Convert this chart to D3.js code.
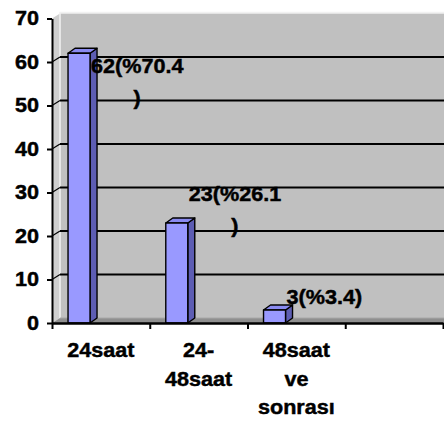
<!DOCTYPE html>
<html>
<head>
<meta charset="utf-8">
<script src="https://cdn.jsdelivr.net/npm/d3@7"></script>
<style>
  body { margin: 0; background: #fff; }
  svg { display: block; }
  text { font-family: "Liberation Sans", Arial, sans-serif; font-weight: bold; fill: #000; stroke: #000; stroke-width: 0.45px; }
</style>
</head>
<body>
<svg id="chart" width="444" height="421"></svg>
<script>
'use strict';
const CATEGORIES = ['24saat', '24-48saat', '48saat ve sonrası', ''];
const CATEGORY_LINES = [['24saat'], ['24-', '48saat'], ['48saat', 've', 'sonrası'], []];
const VALUES = [62, 23, 3];
const DATA_LABELS = [['62(%70.4', ')'], ['23(%26.1', ')'], ['3(%3.4)']];
const Y_TICKS = [0, 10, 20, 30, 40, 50, 60, 70];

const FONT_SIZE = 20;
const STRETCH = 1.08;
const DEPTH = { dx: 8, dy: -5 };
const BAR_DEPTH = { dx: 7, dy: -5 };

const svg = d3.select('#chart');
const plotLeft = 52, plotRight = 443, plotBottom = 323, plotTop = 18.5;

const x = d3.scaleBand().domain(CATEGORIES).range([plotLeft, plotRight]).padding(0);
const xEdges = d3.scaleLinear().domain([0, CATEGORIES.length]).range([plotLeft, plotRight]);
const y = d3.scaleLinear().domain([0, 70]).range([plotBottom, plotTop]);
const bw = x.bandwidth();

// walls
svg.append('polygon')
  .attr('points', [[plotLeft + DEPTH.dx, y(70) + DEPTH.dy], [460, y(70) + DEPTH.dy], [460, y(0) + DEPTH.dy], [plotLeft + DEPTH.dx, y(0) + DEPTH.dy]].join(' '))
  .attr('fill', '#c0c0c0');
svg.append('polygon')
  .attr('points', [[plotLeft, y(70)], [plotLeft + DEPTH.dx, y(70) + DEPTH.dy], [plotLeft + DEPTH.dx, y(0) + DEPTH.dy], [plotLeft, y(0)]].join(' '))
  .attr('fill', '#cfcfcf');
svg.append('polygon')
  .attr('points', [[plotLeft, y(0)], [plotLeft + DEPTH.dx, y(0) + DEPTH.dy], [460, y(0) + DEPTH.dy], [460, y(0)]].join(' '))
  .attr('fill', '#8f8f8f');
// wall edge highlights
svg.append('polyline')
  .attr('points', [[plotLeft + DEPTH.dx, y(0) + DEPTH.dy], [plotLeft + DEPTH.dx, y(70) + DEPTH.dy - 1], [460, y(70) + DEPTH.dy - 1]].join(' '))
  .attr('fill', 'none').attr('stroke', '#f2f2f2').attr('stroke-width', 1.5);
svg.append('line')
  .attr('x1', plotLeft + DEPTH.dx).attr('x2', 460)
  .attr('y1', y(0) + DEPTH.dy).attr('y2', y(0) + DEPTH.dy)
  .attr('stroke', '#a8a8a8').attr('stroke-width', 1);

// gridlines
const grid = svg.append('g');
Y_TICKS.filter((t) => t > 0 && t < 70).forEach((t) => {
  grid.append('line')
    .attr('x1', plotLeft + DEPTH.dx).attr('x2', 460)
    .attr('y1', y(t) + DEPTH.dy).attr('y2', y(t) + DEPTH.dy)
    .attr('stroke', '#000').attr('stroke-width', 2);
  grid.append('line')
    .attr('x1', plotLeft).attr('x2', plotLeft + DEPTH.dx)
    .attr('y1', y(t)).attr('y2', y(t) + DEPTH.dy)
    .attr('stroke', '#000').attr('stroke-width', 1.2);
});

// bars
const bars = svg.append('g');
VALUES.forEach((v, i) => {
  const c = CATEGORIES[i];
  const x0 = x(c) + bw * 0.164;
  const x1 = x0 + bw * 0.225;
  const yt = y(v), yb = y(0);
  const g = bars.append('g').attr('stroke', '#000').attr('stroke-width', 1.4).attr('stroke-linejoin', 'round');
  g.append('polygon')
    .attr('points', [[x1, yt], [x1 + BAR_DEPTH.dx, yt + BAR_DEPTH.dy], [x1 + BAR_DEPTH.dx, yb + BAR_DEPTH.dy], [x1, yb]].join(' '))
    .attr('fill', '#5d5db3');
  g.append('polygon')
    .attr('points', [[x0, yt], [x0 + BAR_DEPTH.dx, yt + BAR_DEPTH.dy], [x1 + BAR_DEPTH.dx, yt + BAR_DEPTH.dy], [x1, yt]].join(' '))
    .attr('fill', '#8a8af0');
  g.append('rect')
    .attr('x', x0).attr('y', yt).attr('width', x1 - x0).attr('height', yb - yt)
    .attr('fill', '#9999ff');
});

// y axis
const yAxis = svg.append('g')
  .attr('transform', `translate(${plotLeft},0)`)
  .call(d3.axisLeft(y).tickValues(Y_TICKS).tickSize(5).tickSizeOuter(0).tickPadding(7));
yAxis.select('.domain').attr('stroke-width', 2);
yAxis.selectAll('.tick line').attr('stroke-width', 2);
yAxis.selectAll('.tick text')
  .attr('font-size', FONT_SIZE)
  .attr('font-family', '"Liberation Sans", Arial, sans-serif')
  .attr('font-weight', 'bold')
  .attr('transform', `scale(${STRETCH},1)`);

// x axis
const xAxis = svg.append('g')
  .attr('transform', `translate(0,${plotBottom})`)
  .call(d3.axisBottom(xEdges).ticks(CATEGORIES.length).tickFormat('').tickSize(6).tickSizeOuter(0));
xAxis.select('.domain').attr('stroke-width', 2.5);
xAxis.selectAll('.tick line').attr('stroke-width', 2);

// category labels
CATEGORY_LINES.forEach((lines, i) => {
  const cx = x(CATEGORIES[i]) + bw / 2;
  lines.forEach((line, j) => {
    svg.append('text')
      .attr('transform', `translate(${cx},${plotBottom + 34 + j * 28.5}) scale(${STRETCH},1)`)
      .attr('text-anchor', 'middle')
      .attr('font-size', FONT_SIZE)
      .text(line);
  });
});

// data labels (wrapped like the original: overflow ")" on its own line)
DATA_LABELS.forEach((lines, i) => {
  const bx = x(CATEGORIES[i]);
  const lineH = 32;
  const anchorY = Math.max(y(VALUES[i]) - 6, 89);
  const firstBase = anchorY - ((lines.length - 1) * lineH) / 2;
  lines.forEach((line, j) => {
    const first = j === 0;
    svg.append('text')
      .attr('transform', `translate(${first ? bx + 39 : bx + 85},${firstBase + j * lineH}) scale(${STRETCH},1)`)
      .attr('text-anchor', first ? 'start' : 'middle')
      .attr('font-size', FONT_SIZE)
      .text(line);
  });
});
</script>
</body>
</html>
